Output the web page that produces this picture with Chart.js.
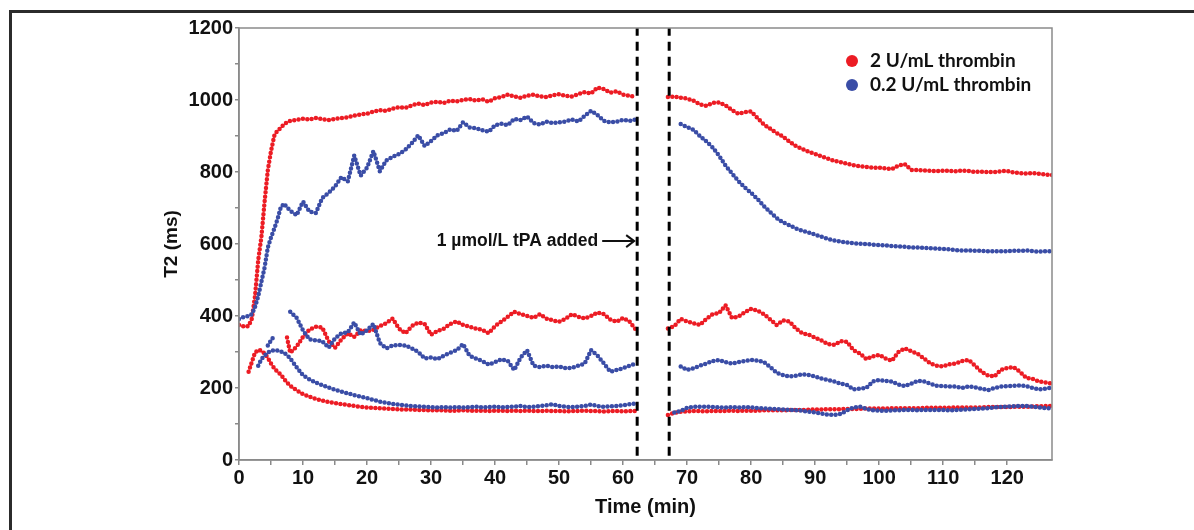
<!DOCTYPE html>
<html>
<head>
<meta charset="utf-8">
<script src="https://cdn.jsdelivr.net/npm/chart.js@4.4.1/dist/chart.umd.min.js"></script>
<style>
  html, body { margin: 0; padding: 0; background: #fff; }
  #wrap { position: relative; width: 1194px; height: 530px; overflow: hidden; }
  #frame { position: absolute; left: 9px; top: 10px; right: 0; bottom: 0;
           border-top: 3px solid #2b2b2b; border-left: 3px solid #2b2b2b; pointer-events: none; }
  canvas { position: absolute; left: 0; top: 0; }
</style>
</head>
<body>
<div id="wrap">
  <canvas id="t2Chart" width="1194" height="530"></canvas>
  <div id="frame"></div>
</div>
<script>
// ---- data ----
const seriesLabels = ['2 U/mL thrombin', '0.2 U/mL thrombin'];
const tpaStart = 62.2;   // dashed line, tPA added
const tpaEnd = 67.2;     // dashed line, measurement resumed

// time (min) before tPA
const preTime = [0, 0.5, 1, 1.5, 2, 2.5, 3, 3.5, 4, 4.5, 5, 5.5, 6, 6.5, 7, 7.5, 8,
  9, 10, 11, 12, 13, 14, 15, 16, 17, 18, 19, 20, 21, 22, 23, 24, 25, 26, 27, 28, 29, 30,
  31, 32, 33, 34, 35, 36, 37, 38, 39, 40, 41, 42, 43, 44, 45, 46, 47, 48, 49, 50,
  51, 52, 53, 54, 55, 56, 57, 58, 59, 60, 61, 62];
// time (min) after tPA
const postTime = [67, 68, 69, 70, 71, 72, 73, 74, 75, 76, 77, 78, 79, 80, 81, 82, 83, 84, 85, 86,
  87, 88, 89, 90, 91, 92, 93, 94, 95, 96, 97, 98, 99, 100, 101, 102, 103, 104, 105, 106,
  107, 108, 109, 110, 111, 112, 113, 114, 115, 116, 117, 118, 119, 120, 121, 122, 123, 124,
  125, 126, 127];

// 2 U/mL thrombin, T2 (ms)
const redHighPre = [375, 372, 370, 372, 392, 455, 555, 620, 718, 805, 858, 900, 915, 922, 932, 938, 942,
  945, 948, 946, 950, 947, 944, 948, 950, 952, 957, 960, 962, 968, 972, 970, 976, 980, 978, 985, 990,
  986, 993, 995, 992, 998, 996, 1000, 1003, 998, 1002, 995, 1005, 1008, 1015, 1010, 1006, 1012, 1015,
  1010, 1008, 1013, 1016, 1012, 1010, 1016, 1022, 1018, 1035, 1030, 1020, 1024, 1015, 1012, 1008];
const redMidPre = [null, null, null, null, null, null, null, null, null, null, null, null, null, null, null, 340, 298,
  315, 342, 362, 370, 368, 330, 312, 335, 352, 342, 360, 358, 362, 372, 380, 393, 365, 352, 372, 382,
  378, 348, 358, 365, 378, 385, 375, 370, 365, 362, 352, 372, 385, 398, 412, 405, 400, 395, 405, 393,
  388, 384, 392, 405, 398, 393, 400, 410, 405, 390, 384, 395, 385, 362];
const redLowPre = [null, null, null, 245, 272, 298, 306, 304, 296, 284, 268, 255, 245, 238, 226, 215, 206,
  194, 183, 176, 170, 165, 161, 158, 155, 153, 150, 148, 146, 145, 144, 143, 142, 141, 140, 140, 139,
  139, 138, 138, 138, 137, 137, 138, 137, 137, 137, 136, 137, 137, 136, 137, 136, 137, 136, 136, 137,
  136, 136, 135, 136, 136, 137, 136, 136, 135, 136, 136, 135, 136, 136];
const redHighPost = [1008, 1010, 1006, 1004, 998, 988, 984, 992, 993, 985, 972, 962, 966, 968, 950,
  932, 920, 908, 898, 884, 872, 864, 856, 850, 843, 837, 831, 827, 823, 819, 816, 814, 812, 812, 810,
  808, 818, 822, 806, 805, 804, 803, 802, 804, 803, 802, 804, 803, 800, 801, 800, 800, 802, 803, 799,
  797, 796, 797, 795, 793, 792];
const redMidPost = [365, 372, 392, 385, 380, 375, 392, 405, 408, 430, 395, 398, 410, 420, 415,
  405, 390, 375, 388, 385, 365, 352, 348, 340, 332, 322, 320, 330, 328, 305, 296, 280, 288, 292, 282,
  276, 300, 310, 302, 295, 282, 268, 262, 260, 266, 268, 275, 278, 262, 245, 235, 232, 250, 256, 258,
  245, 228, 225, 218, 215, 212];
const redLowPost = [125, 131, 134, 135, 136, 136, 135, 136, 136, 136, 137, 136, 137, 137, 137,
  138, 138, 138, 138, 139, 139, 139, 140, 140, 140, 141, 141, 141, 142, 142, 142, 143, 143, 143, 143,
  144, 144, 144, 144, 144, 145, 145, 145, 145, 145, 146, 146, 146, 146, 146, 147, 147, 147, 147, 148,
  148, 148, 149, 149, 150, 150];

// 0.2 U/mL thrombin, T2 (ms)
const blueHighPre = [392, 396, 398, 400, 405, 425, 455, 495, 535, 590, 618, 642, 668, 700, 712, 702, 692,
  680, 718, 690, 686, 728, 742, 760, 786, 774, 846, 790, 812, 858, 802, 832, 842, 850, 862, 880, 902,
  872, 886, 902, 908, 918, 914, 938, 924, 922, 916, 912, 930, 934, 930, 948, 944, 954, 936, 932, 940,
  936, 938, 940, 946, 940, 956, 970, 958, 942, 938, 940, 945, 942, 946];
const blueMidPre = [null, null, null, null, null, null, null, null, null, 318, 332, 345, null, null, null, null, 412,
  395, 360, 335, 332, 330, 312, 338, 352, 355, 382, 348, 360, 378, 325, 310, 318, 320, 318, 310, 300,
  282, 285, 280, 290, 298, 305, 322, 290, 282, 275, 265, 272, 280, 275, 250, 285, 305, 262, 258, 262,
  258, 260, 255, 256, 262, 268, 305, 290, 268, 245, 250, 255, 262, 268];
const blueLowPre = [null, null, null, null, null, null, 262, 280, 290, 298, 303, 305, 304, 302, 298, 292, 282,
  258, 235, 224, 215, 208, 201, 195, 190, 185, 180, 176, 172, 167, 162, 159, 156, 154, 152, 150, 149,
  148, 147, 146, 147, 146, 147, 146, 147, 148, 146, 147, 148, 146, 147, 148, 150, 147, 148, 150, 152,
  155, 150, 148, 147, 148, 150, 154, 150, 148, 149, 150, 152, 155, 157];
const blueHighPost = [null, null, 933, 925, 917, 900, 885, 868, 845, 818, 796, 775, 757, 742, 725,
  705, 688, 672, 660, 652, 643, 637, 632, 626, 620, 614, 610, 607, 604, 602, 601, 600, 598, 597, 596,
  594, 593, 592, 590, 590, 589, 588, 587, 586, 585, 583, 582, 582, 581, 581, 580, 580, 580, 580, 581,
  581, 582, 580, 579, 580, 580];
const blueMidPost = [null, null, 260, 250, 255, 262, 268, 275, 278, 272, 268, 272, 275, 278, 276,
  272, 258, 242, 236, 232, 234, 238, 236, 232, 226, 222, 218, 212, 208, 196, 198, 200, 218, 222, 220,
  218, 210, 205, 212, 220, 218, 212, 206, 205, 204, 204, 200, 205, 202, 198, 194, 200, 204, 205, 206,
  207, 205, 200, 196, 198, 202];
const blueLowPost = [null, 132, 136, 145, 148, 148, 148, 147, 146, 146, 147, 146, 147, 146, 144,
  143, 142, 141, 140, 139, 138, 137, 134, 132, 129, 126, 125, 128, 138, 146, 148, 142, 138, 137, 137,
  138, 138, 139, 139, 138, 139, 139, 139, 139, 138, 139, 140, 141, 142, 143, 144, 146, 147, 148, 149,
  150, 150, 148, 146, 144, 143];

// ---- styling ----
const RED = '#ec1c24';
const BLUE = '#3a4da6';
const AXIS = '#8a8a8a';
const INK = '#111111';

function toPoints(times, values) {
  return times.map((t, i) => ({ x: t, y: values[i] }));
}

// dense dotted trace: round caps on zero-length dashes give a row of dots
function trace(times, values, color) {
  return {
    data: toPoints(times, values),
    showLine: true,
    borderColor: color,
    backgroundColor: color,
    borderWidth: 4.5,
    borderDash: [0, 4.4],
    borderCapStyle: 'round',
    pointRadius: 0,
    spanGaps: false,
    tension: 0
  };
}

function marker(t) {
  return {
    data: [{ x: t, y: 12 }, { x: t, y: 1200 }],
    showLine: true,
    borderColor: '#000',
    borderWidth: 3,
    borderDash: [9, 6],
    borderCapStyle: 'butt',
    pointRadius: 0
  };
}

// legend, plot box and tPA note
const extras = {
  id: 'extras',
  afterDatasetsDraw(chart) {
    const { ctx, chartArea: a, scales: { x, y } } = chart;
    ctx.save();

    ctx.strokeStyle = AXIS;
    ctx.lineWidth = 1.5;
    ctx.strokeRect(a.left, a.top, a.right - a.left, a.bottom - a.top);

    // legend
    const colors = [RED, BLUE];
    ctx.font = 'bold 19px Lato';
    ctx.textBaseline = 'middle';
    ctx.textAlign = 'left';
    seriesLabels.forEach((label, i) => {
      const cy = a.top + 33 + i * 24;
      const cx = a.right - 200;
      ctx.fillStyle = colors[i];
      ctx.beginPath();
      ctx.arc(cx, cy, 6, 0, Math.PI * 2);
      ctx.fill();
      ctx.fillStyle = INK;
      ctx.fillText(label, cx + 18, cy);
    });

    // tPA note with arrow
    const ax = x.getPixelForValue(tpaStart) - 3;
    const ay = y.getPixelForValue(608);
    ctx.font = 'bold 17.5px "Liberation Sans", Arial, sans-serif';
    ctx.textAlign = 'right';
    ctx.fillStyle = INK;
    ctx.fillText('1 \u00b5mol/L tPA added', ax - 36, ay);
    ctx.strokeStyle = INK;
    ctx.lineWidth = 2;
    ctx.beginPath();
    ctx.moveTo(ax - 32, ay);
    ctx.lineTo(ax, ay);
    ctx.moveTo(ax - 8, ay - 6);
    ctx.lineTo(ax, ay);
    ctx.lineTo(ax - 8, ay + 6);
    ctx.stroke();

    ctx.restore();
  }
};

const tickFont = { family: '"Liberation Sans", Arial, sans-serif', size: 20, weight: 'bold' };

const config = {
  type: 'scatter',
  data: {
    datasets: [
      marker(tpaStart),
      marker(tpaEnd),
      trace(preTime, blueHighPre, BLUE),
      trace(preTime, blueMidPre, BLUE),
      trace(preTime, blueLowPre, BLUE),
      trace(postTime, blueHighPost, BLUE),
      trace(postTime, blueMidPost, BLUE),
      trace(postTime, blueLowPost, BLUE),
      trace(preTime, redHighPre, RED),
      trace(preTime, redMidPre, RED),
      trace(preTime, redLowPre, RED),
      trace(postTime, redHighPost, RED),
      trace(postTime, redMidPost, RED),
      trace(postTime, redLowPost, RED)
    ]
  },
  options: {
    responsive: false,
    animation: false,
    devicePixelRatio: 1,
    layout: { padding: { left: 0, right: 142, top: 28, bottom: 0 } },
    plugins: { legend: { display: false }, tooltip: { enabled: false } },
    scales: {
      x: {
        type: 'linear',
        min: 0,
        max: 127,
        afterBuildTicks: (s) => { s.ticks = s.ticks.filter(t => t.value % 5 === 0); },
        afterFit: (s) => { s.height = 70; },
        ticks: {
          stepSize: 5,
          autoSkip: false,
          maxRotation: 0,
          padding: 1,
          color: INK,
          font: tickFont,
          callback: (v) => (v % 10 === 0 ? v : '')
        },
        grid: { drawOnChartArea: false, tickLength: 5, color: AXIS, lineWidth: 1.5 },
        border: { color: AXIS, width: 1.5 },
        title: {
          display: true,
          text: 'Time (min)',
          color: INK,
          font: { family: '"Liberation Sans", Arial, sans-serif', size: 20, weight: 'bold' },
          padding: { top: 0, bottom: 11 }
        }
      },
      y: {
        min: 0,
        max: 1200,
        afterFit: (s) => { s.width = 239; },
        ticks: {
          stepSize: 100,
          autoSkip: false,
          padding: 2,
          color: INK,
          font: tickFont,
          callback: (v) => (v % 200 === 0 ? v : '')
        },
        grid: { drawOnChartArea: false, tickLength: 4, color: AXIS, lineWidth: 1.5 },
        border: { color: AXIS, width: 1.5 },
        title: {
          display: true,
          text: 'T2 (ms)',
          color: INK,
          font: { family: '"Liberation Sans", Arial, sans-serif', size: 19, weight: 'bold' },
          padding: { top: 160, bottom: 0 }
        }
      }
    }
  },
  plugins: [extras]
};

new Chart(document.getElementById('t2Chart'), config);
</script>
</body>
</html>
